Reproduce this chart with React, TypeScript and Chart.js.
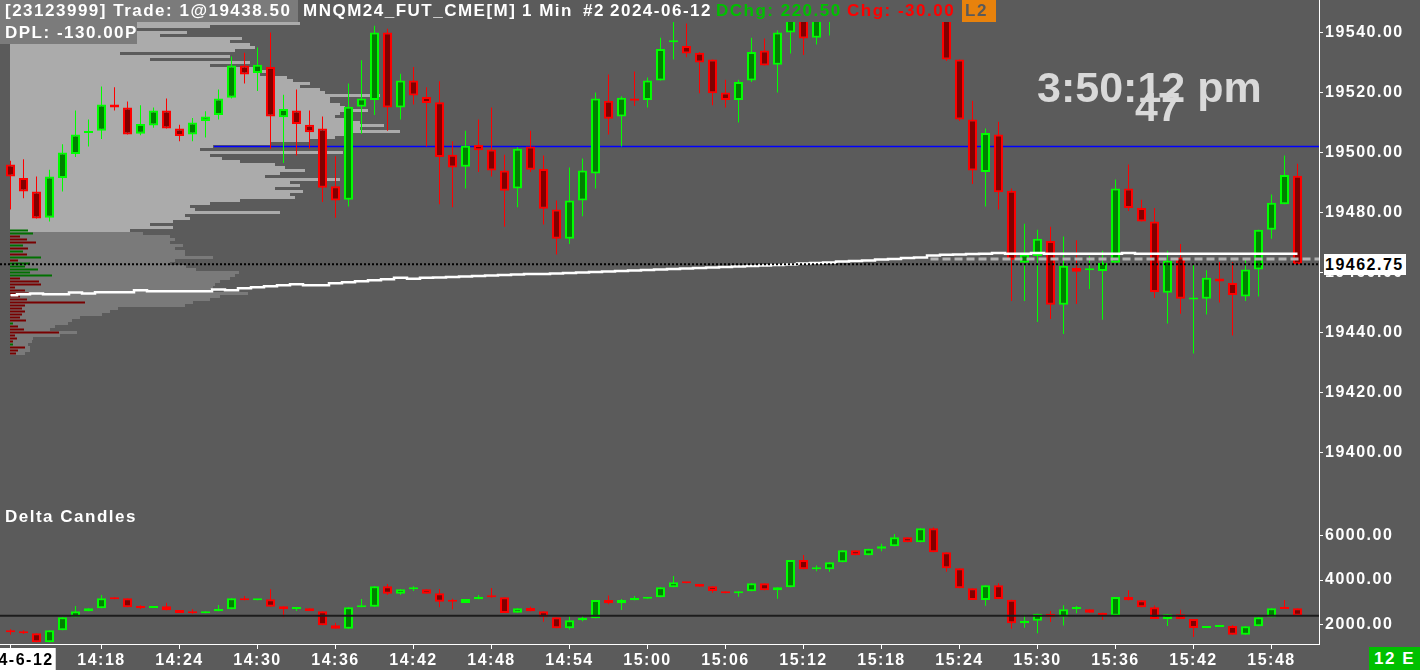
import React, { useEffect, useRef } from 'react';
import { Chart, registerables } from 'chart.js';

Chart.register(...registerables);

const FONT = '"Liberation Sans", Arial, Helvetica, sans-serif';
const BG = '#5b5b5b';
const UP_FILL = '#008000';
const UP_LINE = '#00ff00';
const DN_FILL = '#800000';
const DN_LINE = '#ff0000';

// ---------- categories (1-minute bars) ----------
const barTimes = [
  '14:11','14:12','14:13','14:14','14:15','14:16','14:17','14:18','14:19','14:20',
  '14:21','14:22','14:23','14:24','14:25','14:26','14:27','14:28','14:29','14:30',
  '14:31','14:32','14:33','14:34','14:35','14:36','14:37','14:38','14:39','14:40',
  '14:41','14:42','14:43','14:44','14:45','14:46','14:47','14:48','14:49','14:50',
  '14:51','14:52','14:53','14:54','14:55','14:56','14:57','14:58','14:59','15:00',
  '15:01','15:02','15:03','15:04','15:05','15:06','15:07','15:08','15:09','15:10',
  '15:11','15:12','15:13','15:14','15:15','15:16','15:17','15:18','15:19','15:20',
  '15:21','15:22','15:23','15:24','15:25','15:26','15:27','15:28','15:29','15:30',
  '15:31','15:32','15:33','15:34','15:35','15:36','15:37','15:38','15:39','15:40',
  '15:41','15:42','15:43','15:44','15:45','15:46','15:47','15:48','15:49','15:50',
];

// ---------- tick labels ----------
const tickTimes = ['14:11','14:18','14:24','14:30','14:36','14:42','14:48','14:54','15:00','15:06','15:12','15:18','15:24','15:30','15:36','15:42','15:48'];
const tickLabels = ['2024-6-12','14:18','14:24','14:30','14:36','14:42','14:48','14:54','15:00','15:06','15:12','15:18','15:24','15:30','15:36','15:42','15:48'];
const priceTicks = [19400, 19420, 19440, 19460, 19480, 19500, 19520, 19540];
const deltaTicks = [2000, 4000, 6000];

// ---------- price candles ----------
const priceOpen = [
  19496,19491.5,19487,19478.25,19491.5,19499.5,19506.5,19507.25,19516,19515,
  19506.25,19509,19514,19508,19506,19510.5,19512.5,19518.25,19529,19526.5,
  19528.5,19511.75,19514,19509.25,19508,19488.75,19484.25,19515.25,19517.5,19540,
  19515,19524,19518.5,19516.75,19499.25,19495.25,19502.5,19501,19494,19488,
  19502,19494.5,19481,19471.25,19484,19493,19517.25,19512,19518,19517.5,
  19524,19536.75,19535.5,19533.25,19531,19520,19517.5,19524,19534,19529.25,
  19540,19546,19538.25,19545,19549,19553,19550,19554,19556,19561,
  19558,19563,19552,19531,19511,19493.5,19506,19487.25,19463.25,19465.5,
  19470.5,19449.25,19461.5,19460.75,19460.5,19463.25,19488,19481.5,19477,19453.25,
  19465,19451,19451.25,19458,19456.5,19452,19461,19474.25,19482.75,19492.25,
];
const priceHigh = [
  19497.25,19497.75,19492,19494.25,19502.75,19514,19511,19522,19521.75,19517,
  19515.75,19515,19518,19509.25,19511.5,19513.75,19521,19532,19533.25,19535,
  19540,19519.25,19521,19514,19512,19498.75,19523,19530.75,19542.25,19541.25,
  19526.25,19528.5,19521.75,19523.75,19503.75,19507.25,19511,19515,19499.25,19501.75,
  19507.25,19499,19484,19495,19498,19520,19526,19518.75,19527,19525,
  19538.25,19544,19543,19533.5,19531,19524.25,19524.25,19538.25,19538,19540.75,
  19547,19548,19547,19551,19555,19555,19557,19558,19563,19562,
  19565,19564,19553,19531,19517.25,19508,19510.25,19488,19476.25,19474.25,
  19475.25,19472,19470.75,19465.5,19467.25,19491,19496,19484.25,19481.5,19467.25,
  19469.5,19462.75,19460.75,19463.5,19463.5,19464.25,19474.25,19486,19499,19496.25,
];
const priceLow = [
  19481,19484.75,19478,19477,19487,19498.5,19502,19504.5,19514,19506,
  19505.75,19508.25,19508,19503.75,19503.75,19505,19511,19518,19523,19520.5,
  19501.25,19496.5,19499,19501.25,19483.5,19478.25,19482,19506.25,19512.5,19507.25,
  19511,19516,19502,19482.75,19481.75,19488,19493.5,19492,19475.25,19481.75,
  19493.5,19476,19466,19469.5,19478.75,19488,19506,19502,19515.5,19515,
  19524,19531,19531.75,19519.75,19515.75,19515,19510,19523.5,19529,19520,
  19533,19532.5,19536,19539,19546,19547,19548,19552,19554,19555,
  19556,19549,19530.5,19510.5,19489.5,19482,19481,19450.5,19450.5,19443.5,
  19444.5,19439.5,19449.5,19454.5,19444.25,19463.25,19480.5,19477,19451.5,19443,
  19446.25,19433,19446,19450,19439,19450.5,19452,19471.25,19482.75,19462.75,
];
const priceClose = [
  19492,19487,19478,19492,19500,19506,19507,19516,19515,19506,
  19509.5,19514,19508,19505.5,19510,19512,19518,19529,19526,19529.25,
  19512,19514.5,19509.5,19506.75,19488.25,19484,19515.25,19518,19540,19515,
  19524,19519,19516.5,19498.5,19495,19502.25,19500.75,19494,19487.25,19501.25,
  19494.25,19481.25,19471.25,19484,19494,19518,19511.25,19518.25,19517.25,19524,
  19534.5,19537,19533,19530,19519.75,19517.5,19523.5,19533.5,19529,19540,
  19545,19538,19545.5,19549,19553,19550,19554,19556,19561,19558,
  19563,19552,19531,19511,19494,19506.5,19486.75,19464.25,19466,19471.25,
  19449.25,19462.25,19460.25,19461,19463.25,19488,19481.5,19477,19453.5,19464,
  19451.25,19451.5,19458.25,19457,19452.5,19461,19474.25,19483.25,19492.5,19462.75,
];

// ---------- VWAP ----------
const vwap = [
  19452.43,19452.77,19453.0,19452.77,19452.77,19453.33,19453.0,19453.43,19453.43,19453.43,
  19454.1,19453.77,19453.77,19453.77,19453.77,19453.77,19454.33,19454.1,19454.77,19455.1,
  19455.43,19455.77,19456.1,19455.77,19455.77,19456.43,19456.77,19457.1,19457.43,19457.77,
  19458.23,19457.9,19458.23,19458.33,19458.5,19458.67,19458.83,19459.0,19459.17,19459.33,
  19459.5,19459.5,19459.67,19459.83,19460.0,19460.17,19460.33,19460.5,19460.67,19460.83,
  19461.0,19461.17,19461.33,19461.5,19461.67,19461.83,19462.0,19462.17,19462.33,19462.5,
  19462.67,19463.0,19463.17,19463.33,19463.67,19463.83,19464.0,19464.33,19464.5,19464.83,
  19465.0,19465.67,19465.93,19466.0,19466.17,19466.23,19466.5,19466.23,19466.23,19466.5,
  19466.23,19466.23,19466.23,19466.23,19466.23,19466.23,19466.5,19466.23,19466.23,19466.23,
  19466.23,19466.23,19466.23,19466.23,19466.23,19466.23,19466.23,19466.23,19466.23,19466.23,
];

// ---------- reference levels ----------
const LAST_PRICE = 19462.75;
const BLUE_LEVEL = 19502;
const BLUE_START = 15.65;
const GRAY_LEVEL = 19464.5;
const GRAY_START = 70.77;
const DELTA_REF = 2390;

// ---------- volume profile (1 point per level, from the top level down) ----------
const PROFILE_TOP = 19543;
const VALUE_AREA_LOW = 19474;
const profileVolumes = [
  290,200,120,177,150,232,220,240,245,225,
  110,220,140,240,200,250,265,250,277,283,
  300,290,310,315,370,320,320,330,335,358,
  330,325,340,350,374,350,390,340,325,300,
  260,203,190,333,200,212,230,265,275,295,
  270,255,330,280,290,265,293,280,285,230,
  200,180,185,270,175,180,163,140,163,120,
  133,160,165,160,173,165,175,175,203,165,
  160,176,186,229,225,220,210,205,203,200,
  238,210,200,183,175,108,100,92,70,62,
  58,45,40,67,50,23,22,18,20,20,
  15,
];
const DELTA_PROFILE_TOP = 19474;
const deltaProfile = [
  18,23,-10,-17,-26,13,-18,13,-17,31,
  -8,20,15,28,20,42,-10,-29,-31,-5,
  -15,-20,-10,-17,-75,-15,-12,-15,-12,-10,
  -16,3,-8,-14,-49,-5,-7,-3,3,-15,
  -8,-6,
];

// ---------- delta candles ----------
const deltaOpen = [
  1730,1650,1595,1190,1730,2315,2585,2720,3200,3175,
  2770,2740,2815,2645,2510,2495,2585,2680,3175,3085,
  3130,2815,2690,2720,2585,1955,1800,2770,2795,3715,
  3380,3580,3580,3400,3050,2960,3130,3240,3220,2525,
  2735,2585,2315,1820,2180,2270,3095,2950,3085,3155,
  3220,3670,3910,3820,3715,3490,3400,3490,3850,3535,
  3670,4905,4485,4485,4800,5340,5115,5415,5520,5930,
  5700,6335,5250,4530,3625,3095,3760,3110,2045,2160,
  2480,2315,2690,2675,2525,2390,3230,3085,2770,2240,
  2450,2240,1835,1880,1925,1530,1910,2315,2720,2720,
];
const deltaHigh = [
  1775,1730,1595,1730,2315,2825,2720,3320,3230,3175,
  2860,2815,2975,2645,2675,2585,2870,3175,3280,3140,
  3580,2815,2770,2720,2585,2070,2770,3140,3715,3820,
  3580,3715,3580,3595,3155,3140,3320,3640,3220,2720,
  2795,2585,2315,2375,2390,3095,3300,3140,3280,3220,
  3670,4180,3910,3820,3715,3490,3490,3850,3850,3670,
  4905,5130,4650,4800,5340,5340,5415,5640,6080,5930,
  6335,6380,5250,4530,3625,3760,3850,3110,2430,2480,
  2600,2860,2825,2675,2525,3230,3535,3085,2850,2450,
  2660,2240,1880,1925,1970,1910,2315,2720,3100,2720,
];
const deltaLow = [
  1530,1560,1190,1190,1730,2315,2585,2720,3130,2770,
  2690,2740,2630,2510,2480,2495,2585,2680,3085,3085,
  2795,2315,2600,2600,1955,1800,1800,2770,2795,3320,
  3330,3500,3380,2770,2675,2960,3130,3200,2510,2525,
  2585,2115,1820,1770,2140,2270,2900,2650,3085,3155,
  3220,3670,3850,3700,3420,3400,3240,3490,3535,3150,
  3670,4485,4390,4370,4800,5115,5115,5300,5520,5700,
  5700,5250,4375,3625,3095,2840,3140,1800,1850,1595,
  2100,1950,2500,2525,2190,2390,3085,2770,2240,1925,
  2240,1430,1835,1880,1530,1530,1910,2315,2690,2390,
];
const deltaClose = [
  1640,1595,1190,1730,2315,2585,2720,3175,3130,2770,
  2740,2815,2630,2510,2495,2585,2690,3175,3085,3140,
  2795,2675,2720,2600,1955,1800,2770,2815,3715,3380,
  3580,3600,3380,3020,3020,3140,3230,3220,2510,2720,
  2585,2315,1820,2180,2300,3095,2950,3095,3185,3220,
  3670,3895,3850,3700,3500,3400,3490,3850,3535,3670,
  4905,4485,4500,4800,5340,5115,5415,5520,5930,5700,
  6335,5250,4530,3625,3095,3760,3140,2045,2160,2480,
  2315,2675,2700,2525,2390,3230,3085,2770,2240,2450,
  2240,1835,1880,1925,1530,1910,2315,2720,2690,2390,
];

// ---------- axis ranges ----------
const X_MIN = -0.8077;
const X_MAX = 100.6538;
const PRICE_MIN = 19383.5;
const PRICE_MAX = 19543.5;
const DELTA_MIN = 1111;
const DELTA_MAX = 7522;

const spacingPlugin = {
  id: 'letterSpacing',
  beforeLayout(chart: any) { chart.ctx.letterSpacing = '1.5px'; },
  beforeDraw(chart: any) { chart.ctx.letterSpacing = '1.5px'; },
};

const decoPlugin = {
  id: 'axisTop',
  afterDraw(chart: any) {
    const ctx = chart.ctx;
    const x = Math.round(chart.scales.y.left) + 0.5;
    ctx.save();
    ctx.strokeStyle = '#ffffff';
    ctx.lineWidth = 1;
    ctx.beginPath();
    ctx.moveTo(x, 0);
    ctx.lineTo(x, chart.chartArea.top);
    ctx.stroke();
    ctx.restore();
  },
};

const tx = (s: React.CSSProperties): React.CSSProperties => ({
  position: 'absolute',
  fontFamily: FONT,
  fontWeight: 700,
  fontSize: 17,
  letterSpacing: '1.5px',
  whiteSpace: 'pre',
  lineHeight: '22px',
  color: '#ffffff',
  ...s,
});

export default function App() {
  const ref = useRef<HTMLCanvasElement>(null);

  useEffect(() => {
    const canvas = ref.current;
    if (!canvas) return;
    const idx = barTimes.map((_, i) => i);
    const up = idx.map((i) => priceClose[i] >= priceOpen[i]);
    const dUp = idx.map((i) => deltaClose[i] >= deltaOpen[i]);
    const profileLevels = profileVolumes.map((_, k) => PROFILE_TOP - k);
    const deltaProfileLevels = deltaProfile.map((_, k) => DELTA_PROFILE_TOP - k);
    const tickValues = tickTimes.map((t) => barTimes.indexOf(t));

    const tickFont = { family: FONT, size: 16, weight: 'bold' as const };

    const chart = new Chart(canvas, {
      type: 'bar',
      data: {
        datasets: [
          {
            type: 'bar', label: 'Volume profile', indexAxis: 'y', xAxisID: 'xp', yAxisID: 'y',
            data: profileLevels.map((p, k) => ({ x: profileVolumes[k], y: p })),
            backgroundColor: profileLevels.map((p) => (p >= VALUE_AREA_LOW ? '#ababab' : '#7a7a7a')),
            barThickness: 3, barPercentage: 1, categoryPercentage: 1,
            grouped: false, borderWidth: 0, inflateAmount: 0, order: 40,
          } as any,
          {
            type: 'bar', label: 'Profile delta', indexAxis: 'y', xAxisID: 'xp', yAxisID: 'y',
            data: deltaProfileLevels.map((p, k) => ({ x: Math.abs(deltaProfile[k]), y: p })),
            backgroundColor: deltaProfile.map((v) => (v >= 0 ? '#007000' : '#780000')),
            barThickness: 2, grouped: false, borderWidth: 0, inflateAmount: 0, order: 39,
          } as any,
          {
            type: 'line', label: 'Level', xAxisID: 'x', yAxisID: 'y',
            data: [{ x: BLUE_START, y: BLUE_LEVEL }, { x: X_MAX, y: BLUE_LEVEL }],
            borderColor: '#0000ff', borderWidth: 1.5, pointRadius: 0, order: 30,
          } as any,
          {
            type: 'bar', label: 'Wicks', xAxisID: 'x', yAxisID: 'y',
            data: idx.map((i) => ({ x: i, y: [priceLow[i], priceHigh[i]] })),
            backgroundColor: idx.map((i) => (up[i] ? UP_LINE : DN_LINE)),
            barThickness: 1, grouped: false, borderWidth: 0, inflateAmount: 0, order: 25,
          } as any,
          {
            type: 'bar', label: 'Candles', xAxisID: 'x', yAxisID: 'y',
            data: idx.map((i) => ({ x: i, y: [priceOpen[i], priceClose[i]] })),
            backgroundColor: idx.map((i) => (up[i] ? UP_FILL : DN_FILL)),
            borderColor: idx.map((i) => (up[i] ? UP_LINE : DN_LINE)),
            borderWidth: 2, borderSkipped: false, barThickness: 9, minBarLength: 2,
            grouped: false, inflateAmount: 0, order: 24,
          } as any,
          {
            type: 'line', label: 'VWAP', xAxisID: 'x', yAxisID: 'y',
            data: vwap.map((v, i) => ({ x: i, y: v })),
            stepped: 'middle', borderColor: '#ffffff', borderWidth: 2.5, pointRadius: 0, order: 6,
          } as any,
          {
            type: 'line', label: 'Prior', xAxisID: 'x', yAxisID: 'y',
            data: [{ x: GRAY_START, y: GRAY_LEVEL }, { x: X_MAX, y: GRAY_LEVEL }],
            borderColor: '#b4b4b4', borderWidth: 3, borderDash: [8, 4], pointRadius: 0, order: 5,
          } as any,
          {
            type: 'line', label: 'Last', xAxisID: 'x', yAxisID: 'y',
            data: [{ x: X_MIN, y: LAST_PRICE }, { x: X_MAX, y: LAST_PRICE }],
            borderColor: '#000000', borderWidth: 2, borderDash: [2, 2], pointRadius: 0, order: 4,
          } as any,
          {
            type: 'bar', label: 'Delta wicks', xAxisID: 'x', yAxisID: 'yd',
            data: idx.map((i) => ({ x: i, y: [deltaLow[i], deltaHigh[i]] })),
            backgroundColor: idx.map((i) => (dUp[i] ? UP_LINE : DN_LINE)),
            barThickness: 1, grouped: false, borderWidth: 0, inflateAmount: 0, order: 23,
          } as any,
          {
            type: 'bar', label: 'Delta candles', xAxisID: 'x', yAxisID: 'yd',
            data: idx.map((i) => ({ x: i, y: [deltaOpen[i], deltaClose[i]] })),
            backgroundColor: idx.map((i) => (dUp[i] ? UP_FILL : DN_FILL)),
            borderColor: idx.map((i) => (dUp[i] ? UP_LINE : DN_LINE)),
            borderWidth: 2, borderSkipped: false, barThickness: 9, minBarLength: 2,
            grouped: false, inflateAmount: 0, order: 22,
          } as any,
          {
            type: 'line', label: 'Delta ref', xAxisID: 'x', yAxisID: 'yd',
            data: [{ x: X_MIN, y: DELTA_REF }, { x: X_MAX, y: DELTA_REF }],
            borderColor: '#1c1c1c', borderWidth: 2, pointRadius: 0, order: 3,
          } as any,
        ],
      },
      options: {
        responsive: false,
        animation: false,
        events: [],
        layout: { padding: { top: 22, left: 0, right: 0, bottom: 0 } },
        plugins: { legend: { display: false }, tooltip: { enabled: false }, title: { display: false } },
        scales: {
          x: {
            type: 'linear', position: 'bottom', min: X_MIN, max: X_MAX, offset: false,
            grid: { display: true, drawOnChartArea: false, drawTicks: true, tickLength: 5, color: '#ffffff', offset: false },
            border: { display: true, color: '#ffffff', width: 1 },
            ticks: {
              autoSkip: false, maxRotation: 0, minRotation: 0, padding: 2, font: tickFont,
              color: (c: any) => (c.index === 0 ? '#000000' : '#ffffff'),
              showLabelBackdrop: (c: any) => c.index === 0,
              backdropColor: '#ffffff',
              backdropPadding: { top: 3, bottom: 4, left: 2, right: 2 },
              callback: (_v: any, i: number) => tickLabels[i],
            },
            afterBuildTicks: (s: any) => { s.ticks = tickValues.map((v) => ({ value: v })); },
            afterFit: (s: any) => { s.height = 26; s.paddingLeft = 0; s.paddingRight = 0; },
          } as any,
          xp: {
            type: 'linear', axis: 'x', position: 'bottom', display: false, min: -10, max: 1309, offset: false,
          } as any,
          y: {
            type: 'linear', position: 'right', stack: 'panes', stackWeight: 480,
            min: PRICE_MIN, max: PRICE_MAX, offset: false,
            grid: { display: true, drawOnChartArea: false, drawTicks: true, tickLength: 4, color: '#ffffff', offset: false },
            border: { display: true, color: '#ffffff', width: 1 },
            ticks: { padding: 2, font: tickFont, color: '#ffffff', callback: (v: any) => Number(v).toFixed(2) },
            afterBuildTicks: (s: any) => { s.ticks = priceTicks.map((v) => ({ value: v })); },
            afterFit: (s: any) => { s.width = 101; },
          } as any,
          yd: {
            type: 'linear', axis: 'y', position: 'right', stack: 'panes', stackWeight: 142,
            min: DELTA_MIN, max: DELTA_MAX, offset: false,
            grid: { display: true, drawOnChartArea: false, drawTicks: true, tickLength: 4, color: '#ffffff', offset: false },
            border: { display: true, color: '#ffffff', width: 1 },
            ticks: { padding: 2, font: tickFont, color: '#ffffff', callback: (v: any) => Number(v).toFixed(2) },
            afterBuildTicks: (s: any) => { s.ticks = deltaTicks.map((v) => ({ value: v })); },
            afterFit: (s: any) => { s.width = 101; },
          } as any,
        },
      },
      plugins: [spacingPlugin, decoPlugin],
    });
    return () => chart.destroy();
  }, []);

  return (
    <div style={{ position: 'fixed', left: 0, top: 0, width: 1420, height: 670, background: BG, overflow: 'hidden' }}>
      <canvas ref={ref} width={1420} height={670} style={{ position: 'absolute', left: 0, top: 0 }} />
      {/* header */}
      <div style={{ position: 'absolute', left: 0, top: 0, width: 298, height: 22, background: '#7b7b7b' }} />
      <div style={tx({ left: 5, top: 0 })}>[23123999] Trade: 1@19438.50</div>
      <div style={tx({ left: 303, top: 0 })}>MNQM24_FUT_CME[M]</div>
      <div style={tx({ left: 522, top: 0 })}>1 Min</div>
      <div style={tx({ left: 583, top: 0 })}>#2</div>
      <div style={tx({ left: 610, top: 0 })}>2024-06-12</div>
      <div style={tx({ left: 716, top: 0, color: '#00c000' })}>DChg: 220.50</div>
      <div style={tx({ left: 847, top: 0, color: '#ff0000' })}>Chg: -30.00</div>
      <div style={{ position: 'absolute', left: 962, top: 0, width: 34, height: 22, background: '#e8820c' }} />
      <div style={tx({ left: 965, top: 0, color: '#5a5a5a' })}>L2</div>
      <div style={{ position: 'absolute', left: 0, top: 22, width: 137, height: 22, background: '#7b7b7b' }} />
      <div style={tx({ left: 5, top: 22 })}>DPL: -130.00P</div>
      {/* clock */}
      <div style={tx({ left: 1037, top: 66, fontSize: 43, lineHeight: '43px', letterSpacing: '0px', color: '#d9d9d9' })}>3:50:12 pm</div>
      <div style={tx({ left: 1135, top: 87, fontSize: 41, lineHeight: '41px', letterSpacing: '0px', color: '#d9d9d9' })}>47</div>
      {/* delta pane title */}
      <div style={tx({ left: 5, top: 508, lineHeight: '17px' })}>Delta Candles</div>
      {/* last price label */}
      <div style={{ position: 'absolute', left: 1324, top: 254, width: 82, height: 21, background: '#ffffff' }} />
      <div style={tx({ left: 1325, top: 254, fontSize: 16, lineHeight: '21px', color: '#000000' })}>19462.75</div>
      {/* bottom-right badge */}
      <div style={{ position: 'absolute', left: 1369, top: 647, width: 51, height: 23, background: '#00c000' }} />
      <div style={tx({ left: 1374, top: 647, lineHeight: '23px' })}>12 E</div>
    </div>
  );
}
